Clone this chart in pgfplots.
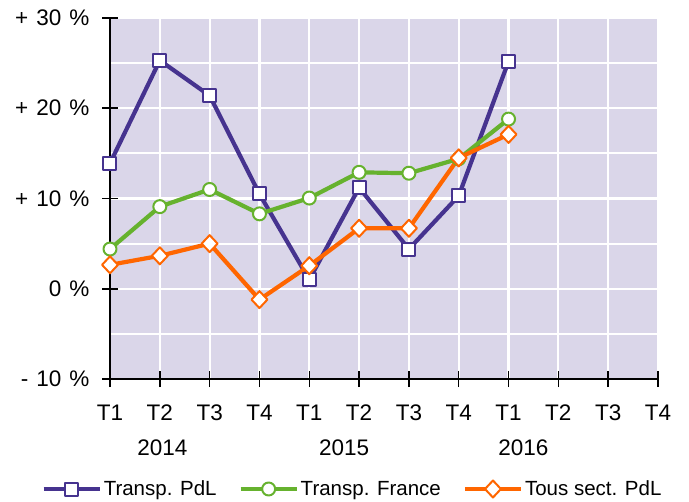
\documentclass[border=0pt]{standalone}
\usepackage{fontspec}
\setmainfont{Liberation Sans}
\usepackage{pgfplots}
\pgfplotsset{compat=1.18}
\definecolor{bgcol}{HTML}{DAD6E9}
\definecolor{pdlpurple}{HTML}{46338F}
\definecolor{frgreen}{HTML}{66B22E}
\definecolor{allorange}{HTML}{FF6600}
\newcommand{\chartfont}{\fontsize{20.5bp}{24bp}\selectfont}
\newcommand{\tickfont}{\fontsize{22.5bp}{26bp}\selectfont}
\newcommand{\wsp}{\hspace{0.36em}}

\begin{document}
\begin{tikzpicture}
\path[use as bounding box] (-110bp,-123bp) rectangle (579bp,379bp);
\begin{axis}[
  at={(0,0)}, anchor=south west,
  scale only axis,
  width=548bp, height=361bp,
  xmin=0, xmax=11, ymin=-10, ymax=30,
  axis x line*=bottom, axis y line*=left,
  axis line style={black, line width=1.5bp, -},
  axis background/.style={fill=bgcol},
  xtick={0,...,11},
  xticklabels={T1,T2,T3,T4,T1,T2,T3,T4,T1,T2,T3,T4},
  ytick={-10,0,10,20,30},
  yticklabels={-\wsp 10\wsp\%,0\wsp\%,+\wsp 10\wsp\%,+\wsp 20\wsp\%,+\wsp 30\wsp\%},
  minor ytick={-5,5,15,25},
  grid=both,
  major grid style={white, line width=2.2bp},
  minor grid style={white, line width=2.2bp},
  tick align=center,
  major tick length=16bp,
  minor tick length=0pt,
  tick style={black, line width=1.5bp},
  tick label style={font=\tickfont},
  yticklabel style={xshift=-9bp},
  xticklabel style={yshift=-14bp},
  legend columns=3,
  legend style={at={(0.4425,-0.3047)}, anchor=center, draw=none, fill=none,
    font=\chartfont, /tikz/every even column/.append style={column sep=20bp}},
  legend cell align=left,
  legend image code/.code={%
    \draw[mark repeat=2, mark phase=2] plot coordinates {(0bp,0bp) (28bp,0bp) (56bp,0bp)};},
  clip=false,
]
\addplot[pdlpurple, line width=4.2bp, line join=round,
  mark=square*, mark size=6.5bp, mark options={solid, fill=white, line width=2bp}]
  coordinates {(0,13.9) (1,25.3) (2,21.4) (3,10.5) (4,1.0) (5,11.2) (6,4.4) (7,10.3) (8,25.2)};
\addlegendentry{Transp. PdL}
\addplot[frgreen, line width=4.2bp, line join=round,
  mark=*, mark size=6.5bp, mark options={solid, fill=white, line width=2bp}]
  coordinates {(0,4.4) (1,9.1) (2,11.0) (3,8.3) (4,10.05) (5,12.9) (6,12.8) (7,14.4) (8,18.8)};
\addlegendentry{Transp. France}
\addplot[allorange, line width=4.2bp, line join=round,
  mark=diamond*, mark size=8.5bp, mark options={solid, fill=white, line width=2bp, xscale=1.25}]
  coordinates {(0,2.65) (1,3.65) (2,5.0) (3,-1.2) (4,2.55) (5,6.7) (6,6.7) (7,14.5) (8,17.1)};
\addlegendentry{Tous sect. PdL}
\node[font=\tickfont] at (axis cs:1.05,-10) [yshift=-69bp] {2014};
\node[font=\tickfont] at (axis cs:4.7,-10) [yshift=-69bp] {2015};
\node[font=\tickfont] at (axis cs:8.3,-10) [yshift=-69bp] {2016};
\end{axis}
\end{tikzpicture}
\end{document}
